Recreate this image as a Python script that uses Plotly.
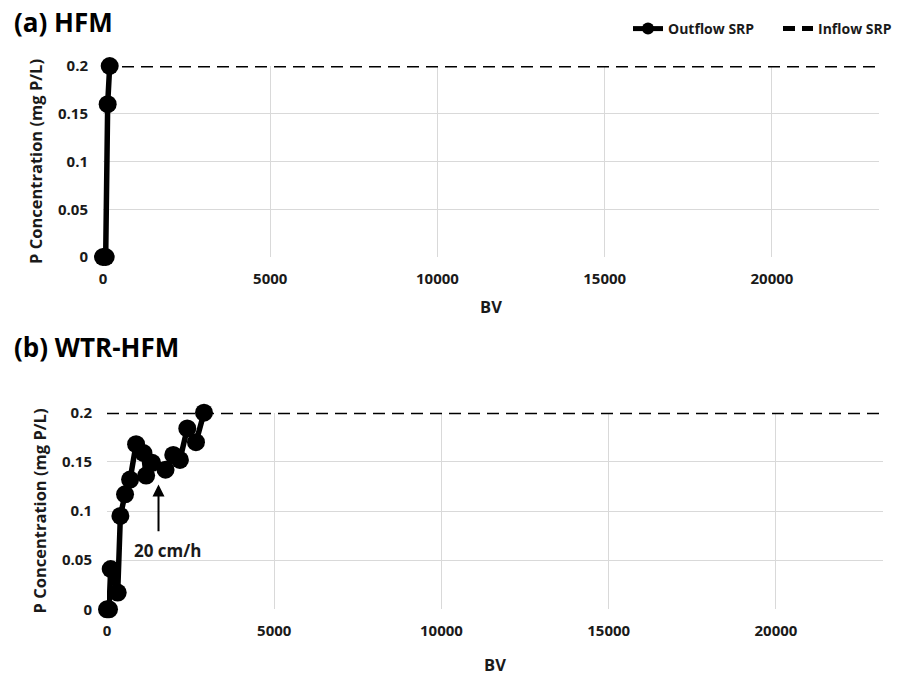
import plotly.graph_objects as go

# Phosphorus breakthrough data: bed volumes (BV) vs outflow SRP (mg P/L)
hfm_bv = [0, 80, 140, 200]
hfm_srp = [0, 0, 0.16, 0.2]

wtr_bv = [0, 60, 110, 320, 400, 540, 690, 870, 1090, 1170, 1350, 1750, 1980, 2180, 2400, 2660, 2900]
wtr_srp = [0, 0, 0.041, 0.017, 0.095, 0.117, 0.132, 0.168, 0.159, 0.136, 0.149, 0.142, 0.157, 0.152, 0.184, 0.170, 0.200]

inflow_bv = [0, 23200]
inflow_srp = [0.2, 0.2]

x_ticks = [0, 5000, 10000, 15000, 20000]
y_ticks = [0, 0.05, 0.1, 0.15, 0.2]

FONT = "Open Sans"
INK = "#1a1a1a"
W, H = 899, 676

fig = go.Figure()

outflow_style = dict(mode="lines+markers", line=dict(color="black", width=5.5),
                     marker=dict(color="black", size=18), cliponaxis=False)
inflow_style = dict(mode="lines", line=dict(color="black", width=3, dash="12px,7px"),
                    cliponaxis=False)

fig.add_trace(go.Scatter(x=inflow_bv, y=inflow_srp, name="Inflow SRP", xaxis="x", yaxis="y",
                         legendrank=2, **inflow_style))
fig.add_trace(go.Scatter(x=hfm_bv, y=hfm_srp, name="Outflow SRP", xaxis="x", yaxis="y",
                         legendrank=1, **outflow_style))
fig.add_trace(go.Scatter(x=inflow_bv, y=inflow_srp, name="Inflow SRP", xaxis="x2", yaxis="y2",
                         showlegend=False, **inflow_style))
fig.add_trace(go.Scatter(x=wtr_bv, y=wtr_srp, name="Outflow SRP", xaxis="x2", yaxis="y2",
                         showlegend=False, **outflow_style))

tickfont = dict(family=FONT, size=15, color=INK, weight="bold")
titlefont = dict(family=FONT, size=16.5, color=INK, weight="bold")

def xaxis(domain, anchor, standoff):
    return dict(domain=domain, anchor=anchor, range=[0, 23200], tickvals=x_ticks,
                tickformat="d", showgrid=True, gridcolor="#d9d9d9", gridwidth=1,
                zeroline=False, showline=False, ticks="", ticklabelstandoff=11,
                automargin=False, tickfont=tickfont,
                title=dict(text="BV", font=titlefont, standoff=standoff))

def yaxis(domain, anchor):
    return dict(domain=domain, anchor=anchor, range=[0, 0.2], tickvals=y_ticks,
                showgrid=True, gridcolor="#d9d9d9", gridwidth=1, zeroline=False,
                showline=False, ticks="", ticklabelstandoff=14, tickfont=tickfont,
                automargin=False,
                title=dict(text="P Concentration (mg P/L)", font=titlefont, standoff=11))

fig.update_layout(
    width=W, height=H,
    margin=dict(l=0, r=0, t=0, b=0, autoexpand=False),
    paper_bgcolor="white", plot_bgcolor="white",
    xaxis=xaxis([103 / W, 879 / W], "y", 14),
    yaxis=yaxis([1 - 257 / H, 1 - 66 / H], "x"),
    xaxis2=xaxis([107 / W, 883 / W], "y2", 20),
    yaxis2=yaxis([1 - 609.3 / H, 1 - 412.7 / H], "x2"),
    showlegend=True,
    legend=dict(orientation="h", x=628 / W, xanchor="left", y=1 - 29 / H, yanchor="middle",
                font=dict(family=FONT, size=14, color=INK, weight="bold"),
                itemsizing="constant", itemwidth=30, entrywidth=105,
                entrywidthmode="pixels", bgcolor="rgba(0,0,0,0)"),
    annotations=[
        dict(text="(a) HFM", x=12 / W, y=1 - 22 / H, xref="paper", yref="paper",
             xanchor="left", yanchor="middle", showarrow=False,
             font=dict(family=FONT, size=26, color="black", weight="bold")),
        dict(text="(b) WTR-HFM", x=12 / W, y=1 - 347 / H, xref="paper", yref="paper",
             xanchor="left", yanchor="middle", showarrow=False,
             font=dict(family=FONT, size=26, color="black", weight="bold")),
        dict(text="", x=1540, y=0.127, xref="x2", yref="y2",
             ax=1540, ay=0.078, axref="x2", ayref="y2",
             showarrow=True, arrowhead=2, arrowsize=1.2, arrowwidth=2, arrowcolor="black"),
        dict(text="20 cm/h", x=1810, y=0.06, xref="x2", yref="y2", showarrow=False,
             font=dict(family=FONT, size=17, color=INK, weight="bold")),
    ],
)

fig.write_html("out.html")
